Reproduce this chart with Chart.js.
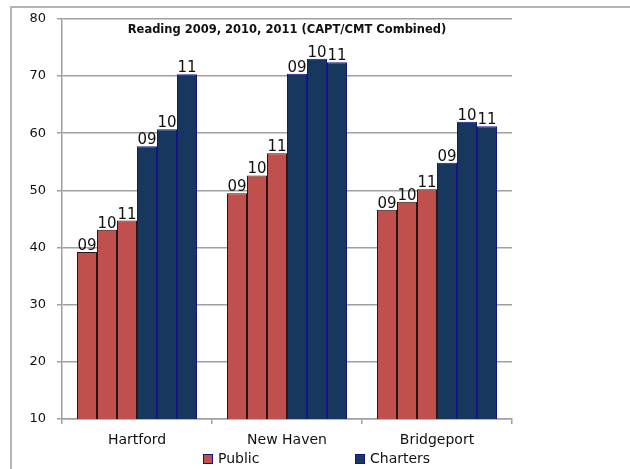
<!DOCTYPE html>
<html>
<head>
<meta charset="utf-8">
<script src="https://cdn.jsdelivr.net/npm/chart.js@4.4.1/dist/chart.umd.min.js"></script>
<style>
  html, body { margin: 0; padding: 0; background: #ffffff; }
  canvas { display: block; }
</style>
</head>
<body>
<canvas id="c" width="630" height="469"></canvas>
<script>
const chartTitle = 'Reading 2009, 2010, 2011 (CAPT/CMT Combined)';
const categories = ['Hartford', 'New Haven', 'Bridgeport'];
const seriesNames = ['Public', 'Charters'];
const yearLabels = ['09', '10', '11'];
const public09 = [39.2, 49.5, 46.6];
const public10 = [43.1, 52.6, 48.0];
const public11 = [44.7, 56.5, 50.2];
const charter09 = [57.7, 70.4, 54.8];
const charter10 = [60.7, 73.0, 62.0];
const charter11 = [70.3, 72.4, 61.2];
const yTicks = [10, 20, 30, 40, 50, 60, 70, 80];

const PUBLIC_COLOR = '#C0504D';
const CHARTER_COLOR = '#17375E';
const GRID = '#A0A0A0';
const FONT = '"DejaVu Sans", sans-serif';

function ds(group, year, data) {
  const isPublic = group === 0;
  return {
    label: seriesNames[group] + ' ' + year,
    group: group,
    year: year,
    data: data,
    backgroundColor: isPublic ? PUBLIC_COLOR : CHARTER_COLOR,
    borderColor: isPublic ? '#2a1515' : '#14148a',
    borderWidth: 1,
    borderSkipped: 'bottom',
    categoryPercentage: 0.8,
    barPercentage: 1.0
  };
}

const datasets = [
  ds(0, yearLabels[0], public09),
  ds(0, yearLabels[1], public10),
  ds(0, yearLabels[2], public11),
  ds(1, yearLabels[0], charter09),
  ds(1, yearLabels[1], charter10),
  ds(1, yearLabels[2], charter11)
];

const framePlugin = {
  id: 'frame',
  beforeDraw(chart) {
    const ctx = chart.ctx;
    ctx.save();
    ctx.fillStyle = '#ffffff';
    ctx.fillRect(0, 0, chart.width, chart.height);
    ctx.strokeStyle = '#B4B4B4';
    ctx.lineWidth = 2;
    ctx.beginPath();
    ctx.moveTo(11, chart.height + 2);
    ctx.lineTo(11, 7);
    ctx.lineTo(chart.width + 2, 7);
    ctx.stroke();
    ctx.restore();
  }
};

const barLabelPlugin = {
  id: 'barLabels',
  afterDatasetsDraw(chart) {
    const ctx = chart.ctx;
    ctx.save();
    ctx.font = '15px ' + FONT;
    ctx.fillStyle = '#111111';
    ctx.textAlign = 'center';
    ctx.textBaseline = 'alphabetic';
    chart.data.datasets.forEach((d, i) => {
      const meta = chart.getDatasetMeta(i);
      meta.data.forEach(bar => {
        ctx.fillText(d.year, bar.x, bar.y - 2);
      });
    });
    ctx.restore();
  }
};

const titleLegendPlugin = {
  id: 'titleLegend',
  afterDraw(chart) {
    const ctx = chart.ctx;
    const area = chart.chartArea;
    ctx.save();
    ctx.fillStyle = '#111111';
    ctx.font = 'bold 11.5px ' + FONT;
    ctx.textAlign = 'center';
    ctx.textBaseline = 'middle';
    ctx.fillText(chartTitle, (area.left + area.right) / 2, 30);

    // legend
    ctx.font = '14px ' + FONT;
    ctx.textAlign = 'left';
    ctx.textBaseline = 'middle';
    const items = [
      { name: seriesNames[0], fill: chart.data.datasets[0].backgroundColor, x: 203 },
      { name: seriesNames[1], fill: chart.data.datasets[3].backgroundColor, x: 355 }
    ];
    const cy = 459;
    items.forEach(it => {
      ctx.fillStyle = it.fill;
      ctx.fillRect(it.x, cy - 5, 10, 10);
      ctx.strokeStyle = '#14148a';
      ctx.lineWidth = 1;
      ctx.strokeRect(it.x + 0.5, cy - 4.5, 9, 9);
      ctx.fillStyle = '#111111';
      ctx.fillText(it.name, it.x + 15, cy);
    });
    ctx.restore();
  }
};

new Chart(document.getElementById('c'), {
  type: 'bar',
  data: { labels: categories, datasets: datasets },
  options: {
    responsive: false,
    animation: false,
    devicePixelRatio: 1,
    layout: { padding: { top: 17, right: 118, bottom: 0, left: 0 } },
    plugins: {
      legend: { display: false },
      title: { display: false },
      tooltip: { enabled: false }
    },
    scales: {
      x: {
        afterFit(scale) { scale.height = 50; },
        grid: {
          offset: true,
          drawOnChartArea: false,
          drawTicks: true,
          tickLength: 5,
          color: GRID,
          lineWidth: 1.5
        },
        border: { display: true, color: GRID, width: 1.5 },
        ticks: {
          color: '#111111',
          font: { family: FONT, size: 14 },
          padding: 8
        }
      },
      y: {
        min: yTicks[0],
        max: yTicks[yTicks.length - 1],
        afterFit(scale) { scale.width = 62; },
        afterBuildTicks(scale) { scale.ticks = yTicks.map(v => ({ value: v })); },
        grid: {
          color: GRID,
          lineWidth: 1.5,
          drawTicks: true,
          tickLength: 5
        },
        border: { display: true, color: GRID, width: 1.5 },
        ticks: {
          color: '#111111',
          font: { family: FONT, size: 13 },
          padding: 11
        }
      }
    }
  },
  plugins: [framePlugin, barLabelPlugin, titleLegendPlugin]
});
</script>
</body>
</html>
